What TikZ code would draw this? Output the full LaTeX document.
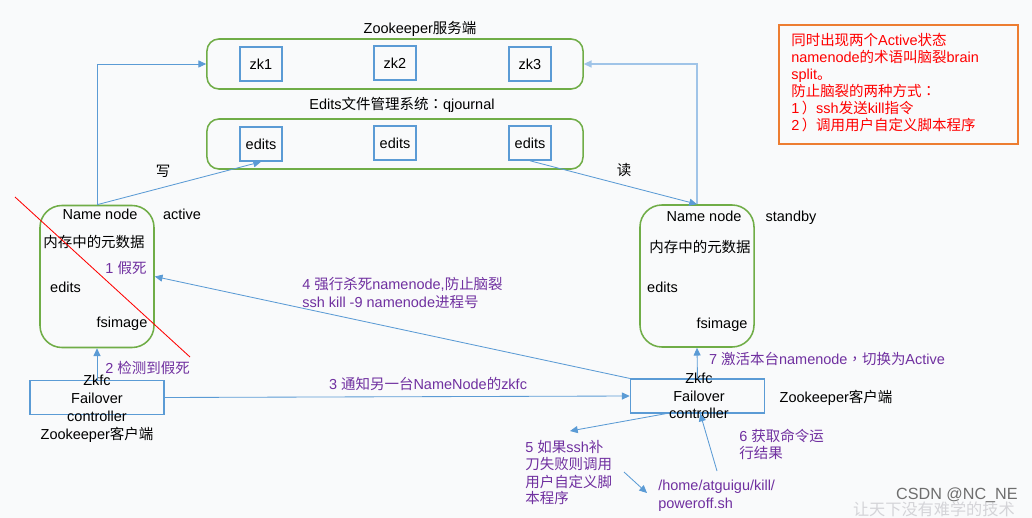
\documentclass[tikz,border=0pt]{standalone}
\usepackage{fontspec}
\setmainfont{Liberation Sans}
\newfontfamily\cjk{Noto Sans CJK SC}
\newfontfamily\cjkp{Noto Sans CJK TC}
\usetikzlibrary{arrows.meta,calc}
\definecolor{bg}{RGB}{249,250,251}
\definecolor{lineblue}{RGB}{91,155,213}
\definecolor{paleblue}{RGB}{160,196,232}
\definecolor{boxgreen}{RGB}{112,173,71}
\definecolor{purp}{RGB}{112,48,160}
\definecolor{noteorange}{RGB}{237,125,49}
\definecolor{wmgray}{RGB}{110,110,110}
\definecolor{wmlight}{RGB}{212,212,216}
\newcommand\zh[1]{{\cjk #1}}
\newcommand\zp[1]{{\cjkp #1}}
\begin{document}
\begin{tikzpicture}[x=0.025cm,y=-0.025cm,
 every node/.style={font=\fontsize{10.3}{12}\selectfont, inner sep=0pt},
 grbox/.style={draw=boxgreen, line width=1.1pt, rounded corners=0.3cm, minimum width=9.4cm, minimum height=1.25cm},
 nnbox/.style={draw=boxgreen, line width=1.1pt, rounded corners=0.55cm, minimum width=2.85cm, minimum height=3.55cm},
 smbox/.style={draw=lineblue, line width=1.1pt, minimum width=1.05cm, minimum height=0.85cm},
 zkfcbox/.style={draw=lineblue, line width=1.1pt, minimum width=3.35cm, minimum height=0.84cm},
 notebox/.style={draw=noteorange, line width=0.9pt, minimum width=5.975cm, minimum height=2.975cm},
 conn/.style={draw=lineblue, line width=0.6pt, -{Triangle[length=5.5pt,width=5pt]}},
 paleconn/.style={draw=paleblue, line width=1.1pt, -{Triangle[length=5.5pt,width=5pt]}, color=paleblue},
 txt/.style={anchor=base},
 ltxt/.style={anchor=base west},
 ptxt/.style={text=purp},
 rtxt/.style={anchor=base west, text=red},
]
% background / bounding box
\path[fill=bg] (0,0) rectangle (1032,518);
\useasboundingbox (0,0) rectangle (1032,518);

% Zookeeper server
\node[txt] (zktitle) at (420,34) {Zookeeper\zh{服务端}};
\node[grbox] (zkbox) at (395,64) {};
\node[smbox] (zk1) at (261,64) {zk1};
\node[smbox] (zk2) at (395,63) {zk2};
\node[smbox] (zk3) at (530,64) {zk3};

% Edits / qjournal
\node[txt] (edtitle) at (402,110) {Edits\zh{文件管理系统}\zp{：}qjournal};
\node[grbox] (edbox) at (395,144) {};
\node[smbox] (ed1) at (261,144) {edits};
\node[smbox] (ed2) at (395,143) {edits};
\node[smbox] (ed3) at (530,143) {edits};

% Left NameNode
\node[nnbox] (nnL) at (97,276.5) {};
\node[txt] (nnLname) at (100,219) {Name node};
\node[txt] (nnLact) at (182,219) {active};
\node[txt] (nnLmem) at (94,247) {\zh{内存中的元数据}};
\node[txt,ptxt] (l1) at (126,273) {1 \zh{假死}};
\node[txt] (nnLed) at (65.5,292) {edits};
\node[txt] (nnLfs) at (122,327) {fsimage};

% Right NameNode
\node[nnbox] (nnR) at (697,276) {};
\node[txt] (nnRname) at (704,222) {Name node};
\node[txt] (nnRsb) at (791,222) {standby};
\node[txt] (nnRmem) at (700,252) {\zh{内存中的元数据}};
\node[txt] (nnRed) at (662.5,292) {edits};
\node[txt] (nnRfs) at (722,328) {fsimage};

% Left Zkfc
\node[zkfcbox] (zkfcL) at (97,397.5) {};
\node[txt] (zkfcL1) at (97,385) {Zkfc};
\node[txt] (zkfcL2) at (97,403) {Failover};
\node[txt] (zkfcL3) at (97,421) {controller};
\node[txt] (zkfcLc) at (97,439) {Zookeeper\zh{客户端}};

% Right Zkfc
\node[zkfcbox] (zkfcR) at (697.5,396) {};
\node[txt] (zkfcR1) at (699,383) {Zkfc};
\node[txt] (zkfcR2) at (699,401) {Failover};
\node[txt] (zkfcR3) at (699,418) {controller};
\node[txt] (zkfcRc) at (836,402) {Zookeeper\zh{客户端}};

% Note box
\node[notebox] (note) at (898.5,84.5) {};
\node[rtxt] (n1) at (791,46) {\zh{同时出现两个}Active\zh{状态}};
\node[rtxt] (n2) at (791,63) {namenode\zh{的术语叫脑裂}brain};
\node[rtxt] (n3) at (791,80) {split\zh{。}};
\node[rtxt] (n4) at (791,97) {\zh{防止脑裂的两种方式}\zp{：}};
\node[rtxt] (n5) at (791,114) {1\,\zh{）}ssh\zh{发送}kill\zh{指令}};
\node[rtxt] (n6) at (791,131) {2\,\zh{）调用用户自定义脚本程序}};

% Connectors
\draw[conn] (nnL.north) -- (nnL.north |- zkbox.west) -- (zkbox.west);
\draw[conn] (nnL.north) -- (ed1.south);
\node[txt] (write) at (163,177) {\zh{写}};
\draw[paleconn] (nnR.north) -- (nnR.north |- zkbox.east) -- (zkbox.east);
\draw[conn] (ed3.south) -- (nnR.north);
\node[txt] (read) at (624,176) {\zh{读}};

\draw[conn] (zkfcL.north) -- (nnL.south);
\node[txt,ptxt] (l2) at (147.5,373) {2 \zh{检测到假死}};

\draw[conn] (zkfcL.east) -- (zkfcR.west);
\node[txt,ptxt] (l3) at (428,389) {3 \zh{通知另一台}NameNode\zh{的}zkfc};

\draw[conn] (zkfcR.north west) -- (nnL.east);
\node[ltxt,ptxt] (l4a) at (302,289) {4 \zh{强行杀死}namenode,\zh{防止脑裂}};
\node[ltxt,ptxt] (l4b) at (302,307) {ssh kill -9 namenode\zh{进程号}};

\draw[conn] (zkfcR.north) -- (nnR.south);
\node[txt,ptxt] (l7) at (827,364) {7 \zh{激活本台}namenode\zp{，}\zh{切换为}Active};

\coordinate (c5) at (570,431);
\draw[conn] ($(zkfcR.south west)!0.27!(zkfcR.south east)$) -- (c5);
\node[ltxt,ptxt] (l5a) at (525,452) {5 \zh{如果}ssh\zh{补}};
\node[ltxt,ptxt] (l5b) at (525,469) {\zh{刀失败则调用}};
\node[ltxt,ptxt] (l5c) at (525,487) {\zh{用户自定义脚}};
\node[ltxt,ptxt] (l5d) at (525,503) {\zh{本程序}};

\node[ltxt,ptxt] (sh1) at (658,490) {/home/atguigu/kill/};
\node[ltxt,ptxt] (sh2) at (658,508) {poweroff.sh};
\coordinate (c5s) at (624,472);
\coordinate (c5e) at (647,493);
\draw[conn] (c5s) -- (c5e);

\coordinate (c6) at (717,471);
\draw[conn] (c6) -- ($(zkfcR.south west)!0.52!(zkfcR.south east)$);
\node[ltxt,ptxt] (l6a) at (739,441) {6 \zh{获取命令运}};
\node[ltxt,ptxt] (l6b) at (739,458) {\zh{行结果}};

% red strike line
\coordinate (rs) at (15,197);
\coordinate (re) at (190,357);
\draw[red, line width=0.6pt] (rs) -- (re);

% watermark
\node[anchor=base east, text=wmlight, font=\fontsize{11.5}{12}\selectfont] (wm2) at (1015,515) {\zh{让天下没有难学的技术}};
\node[anchor=base east, text=wmgray, font=\fontsize{11.5}{12}\selectfont] (wm1) at (1018,499) {CSDN @NC\_NE};
\end{tikzpicture}
\end{document}
